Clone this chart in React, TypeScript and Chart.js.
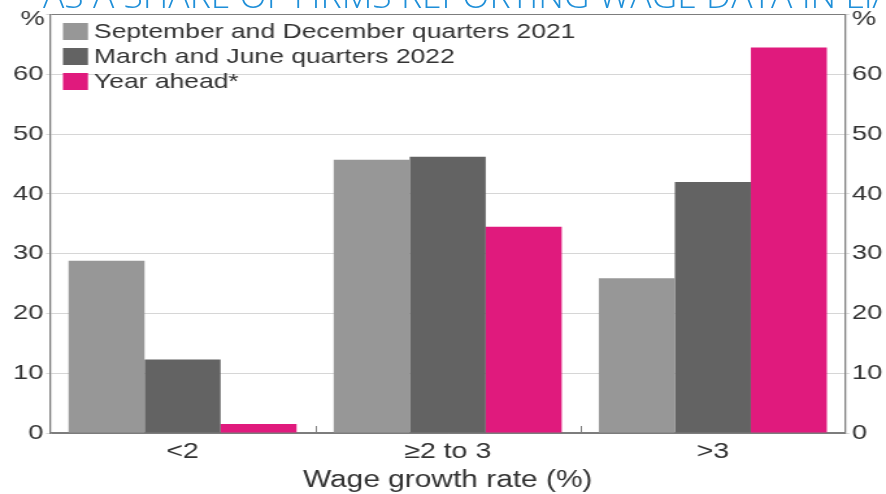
import React, { useEffect, useRef } from "react";
import { Chart, registerables } from "chart.js";

Chart.register(...registerables);

const categories = ["<2", "≥2 to 3", ">3"];
const seriesLabels = [
  "September and December quarters 2021",
  "March and June quarters 2022",
  "Year ahead*",
];
const sepDec2021 = [28.8, 45.7, 25.9];
const marJun2022 = [12.3, 46.2, 42.0];
const yearAhead = [1.5, 34.5, 64.5];
const seriesColors = ["#979797", "#636363", "#e01a7d"];
const yMax = 70;
const yStep = 10;
const axisTitle = "Wage growth rate (%)";
const unitLabel = "%";
const headline = "AS A SHARE OF FIRMS REPORTING WAGE DATA IN LIAISON";

const FULL_W = 886;
const H = 494;
const S = 1.3;
const W = Math.round(FULL_W / S);
const AXIS = "#7d7d7d";
const GRID = "#d6d6d6";
const TEXT = "#333333";
const FONT = "'Liberation Sans', Arial, sans-serif";

const extras = {
  id: "extras",
  afterDraw(chart: any) {
    const ctx = chart.ctx;
    const area = chart.chartArea;
    const x = chart.scales.x;
    ctx.save();
    ctx.strokeStyle = AXIS;
    ctx.lineWidth = 1;
    for (let i = 0; i < categories.length - 1; i++) {
      const px = Math.round((x.getPixelForTick(i) + x.getPixelForTick(i + 1)) / 2) + 0.5;
      ctx.beginPath();
      ctx.moveTo(px, area.bottom);
      ctx.lineTo(px, area.bottom - 7);
      ctx.stroke();
    }
    ctx.fillStyle = TEXT;
    ctx.font = `21px ${FONT}`;
    ctx.textBaseline = "middle";
    ctx.textAlign = "right";
    ctx.fillText(unitLabel, area.left - 4, 19);
    ctx.textAlign = "left";
    ctx.fillText(unitLabel, area.right + 5, 19);
    const boxX = 63 / S;
    const boxW = 25 / S;
    const textX = 94 / S;
    ctx.font = `20.4px ${FONT}`;
    seriesLabels.forEach((lab, i) => {
      const cy = 31.5 + i * 25;
      ctx.fillStyle = seriesColors[i];
      ctx.fillRect(boxX, cy - 8.5, boxW, 17);
      ctx.fillStyle = TEXT;
      ctx.textAlign = "left";
      ctx.fillText(lab, textX, cy + 1);
    });
    ctx.restore();
  },
};

export default function App() {
  const ref = useRef<HTMLCanvasElement>(null);
  useEffect(() => {
    if (!ref.current) return;
    const chart = new Chart(ref.current, {
      type: "bar",
      data: {
        labels: categories,
        datasets: [
          { label: seriesLabels[0], data: sepDec2021, backgroundColor: seriesColors[0] },
          { label: seriesLabels[1], data: marJun2022, backgroundColor: seriesColors[1] },
          { label: seriesLabels[2], data: yearAhead, backgroundColor: seriesColors[2] },
        ],
      },
      options: {
        responsive: false,
        devicePixelRatio: 1,
        animation: false,
        layout: { padding: { top: 10, left: 0, right: 0, bottom: 0 } },
        datasets: { bar: { categoryPercentage: 0.86, barPercentage: 1 } },
        plugins: {
          legend: { display: false },
          title: { display: false },
          tooltip: { enabled: false },
        },
        scales: {
          x: {
            grid: { display: false },
            border: { display: true, color: AXIS, width: 1.3 },
            ticks: { color: TEXT, font: { size: 22, family: FONT }, padding: -2 },
            title: {
              display: true,
              text: axisTitle,
              color: TEXT,
              font: { size: 23, family: FONT },
              padding: { top: 0, bottom: 0 },
            },
            afterFit: (s: any) => {
              s.height = 61;
            },
          },
          y: {
            position: "left",
            min: 0,
            max: yMax,
            grid: {
              color: (c: any) => (c.tick && (c.tick.value === yMax || c.tick.value === 0) ? AXIS : GRID),
              tickLength: 3,
              tickColor: GRID,
            },
            border: { display: true, color: AXIS, width: 1.3 },
            ticks: {
              stepSize: yStep,
              color: TEXT,
              font: { size: 21, family: FONT },
              padding: 2,
              callback: (v: any) => (v === yMax ? "" : String(v)),
            },
            afterFit: (s: any) => {
              s.width = 50 / S;
            },
          },
          y2: {
            position: "right",
            min: 0,
            max: yMax,
            grid: { drawOnChartArea: false, tickLength: 3, color: GRID },
            border: { display: true, color: AXIS, width: 1.3 },
            ticks: {
              stepSize: yStep,
              color: TEXT,
              font: { size: 21, family: FONT },
              padding: 2,
              callback: (v: any) => (v === yMax ? "" : String(v)),
            },
            afterFit: (s: any) => {
              s.width = W - 846 / S;
            },
          },
        },
      },
      plugins: [extras],
    });
    return () => chart.destroy();
  }, []);

  return (
    <div style={{ position: "absolute", left: 0, top: 0, width: FULL_W, height: H, background: "#fff", overflow: "hidden" }}>
      <canvas ref={ref} width={W} height={H} style={{ width: FULL_W, height: H, display: "block" }} />
      <svg width={FULL_W} height={30} style={{ position: "absolute", left: 0, top: 0 }}>
        <text x={43} y={8} fontFamily="'Open Sans', sans-serif" fontWeight={300} fontSize={35.5} fill="#1f8fd8">
          {headline}
        </text>
      </svg>
    </div>
  );
}
